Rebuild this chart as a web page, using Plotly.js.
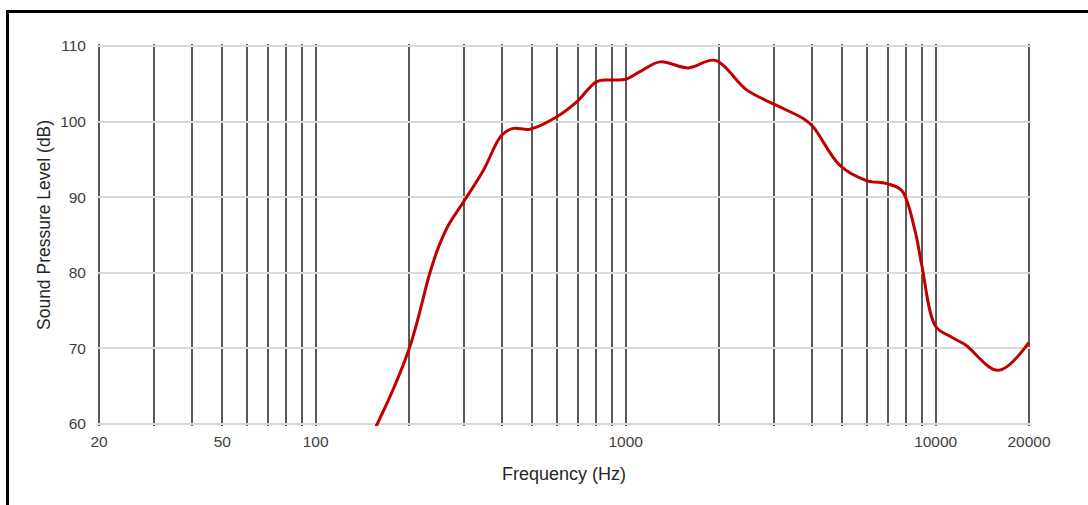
<!DOCTYPE html>
<html>
<head>
<meta charset="utf-8">
<script src="https://cdn.plot.ly/plotly-3.0.1.min.js"></script>
<style>
  html, body { margin: 0; padding: 0; background: #fff; overflow: hidden; }
  #frame { position: absolute; left: 6px; top: 10px; width: 1200px; height: 700px; border: 3px solid #000; box-sizing: border-box; pointer-events: none; z-index: 5; }
  #chart { position: absolute; left: 0; top: 0; width: 1088px; height: 505px; }
</style>
</head>
<body>
<div id="chart"></div>
<div id="frame"></div>
<script>
// Frequency response
const freqHz = [150, 158, 200, 234, 249, 268, 300, 347, 398, 434, 491, 598, 695, 806, 890, 1000, 1112, 1290, 1592, 1942, 2456, 3008, 3740, 4028, 4910, 5985, 6950, 7770, 8572, 9020, 10000, 11120, 12430, 15920, 20000];
const splDb  = [58.3, 60.0, 69.9, 80.1, 83.4, 86.3, 89.4, 93.5, 98.2, 99.1, 99.0, 100.6, 102.6, 105.3, 105.5, 105.6, 106.6, 107.9, 107.1, 108.1, 104.2, 102.3, 100.4, 99.3, 94.2, 92.2, 91.8, 90.9, 85.6, 81.0, 72.9, 71.6, 70.5, 67.1, 70.8];

const gridFreqs = [20, 30, 40, 50, 60, 70, 80, 90, 100, 200, 300, 400, 500, 600, 700, 800, 900, 1000, 2000, 3000, 4000, 5000, 6000, 7000, 8000, 9000, 10000, 20000];
const labeledFreqs = [20, 50, 100, 1000, 10000, 20000];
const yTicks = [60, 70, 80, 90, 100, 110];

const xTickText = gridFreqs.map(f => labeledFreqs.includes(f) ? String(f) : "");

const trace = {
  x: freqHz, y: splDb, type: "scatter", mode: "lines",
  line: { color: "#c00000", width: 3, shape: "spline", smoothing: 1 },
  hoverinfo: "x+y", showlegend: false
};

const layout = {
  width: 1088, height: 505,
  margin: { l: 97, r: 57, t: 44, b: 79 },
  paper_bgcolor: "#ffffff", plot_bgcolor: "#ffffff",
  font: { family: "Liberation Sans, Arial, sans-serif", size: 15.5, color: "#404040" },
  xaxis: {
    type: "log",
    range: [Math.log10(20) - 2 / 310, Math.log10(20000) + 2 / 310],
    tickmode: "array", tickvals: gridFreqs, ticktext: xTickText,
    showgrid: true, gridcolor: "#595959", gridwidth: 2,
    showline: false, zeroline: false, ticks: "",
    ticklabelstandoff: 4,
    title: { text: "Frequency (Hz)", font: { size: 18, color: "#262626" }, standoff: 18 }
  },
  yaxis: {
    range: [60 - 2 / 7.56, 110 + 2 / 7.56],
    tickmode: "array", tickvals: yTicks,
    showgrid: true, gridcolor: "#d9d9d9", gridwidth: 2,
    showline: false, zeroline: false, ticks: "",
    ticklabelstandoff: 10
  },
  annotations: [{
    text: "Sound Pressure Level (dB)", textangle: -90,
    xref: "paper", yref: "paper", x: 0, y: 0.5 + 10 / 382,
    xanchor: "center", yanchor: "middle", xshift: -53, showarrow: false,
    font: { size: 17.5, color: "#262626" }
  }]
};

Plotly.newPlot("chart", [trace], layout, { displayModeBar: false, staticPlot: true });
</script>
</body>
</html>
